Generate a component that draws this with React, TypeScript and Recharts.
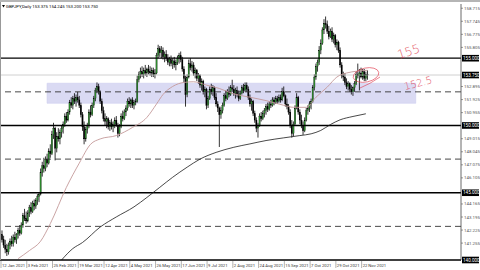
import React from "react";
import { ComposedChart, Bar, Line, XAxis, YAxis, ReferenceLine, ReferenceArea } from "recharts";

// ---- data (GBPJPY daily) ----
const dateLabels = ["12 Jan 2021","3 Feb 2021","25 Feb 2021","19 Mar 2021","12 Apr 2021","4 May 2021","26 May 2021","17 Jun 2021","9 Jul 2021","2 Aug 2021","24 Aug 2021","15 Sep 2021","7 Oct 2021","29 Oct 2021","22 Nov 2021"];
const dateLabelBars = [0,16,32,48,64,80,96,112,128,144,160,176,192,208,224];

const opens = [141.9,141.5,141.1,140.8,140.6,141.1,141.4,141.2,141.7,141.5,
141.9,142.2,142.0,142.6,143.3,143.1,142.9,143.5,143.9,143.6,
144.2,144.0,144.4,144.7,144.9,146.5,147.0,146.8,147.5,147.2,
148.1,147.9,149.3,149.8,148.3,149.2,149.0,149.5,149.8,150.1,
150.7,150.4,151.0,151.7,151.5,152.0,151.8,152.1,151.9,151.5,
150.8,149.9,149.0,149.7,150.0,151.0,150.8,151.5,152.0,152.6,
152.9,152.5,151.8,151.1,150.5,150.3,150.5,149.9,150.2,149.9,
150.1,150.4,150.0,149.4,149.9,150.7,150.5,151.0,151.3,151.8,
151.6,151.9,151.5,151.7,151.8,153.4,153.8,154.0,153.8,154.1,
153.9,154.2,154.0,153.9,154.1,153.8,153.9,155.2,155.7,155.4,
155.6,155.1,155.3,155.0,154.7,154.9,154.6,154.8,154.5,154.7,
155.0,155.2,154.9,154.2,153.5,152.3,153.6,154.6,154.3,154.5,
153.9,154.1,153.5,153.7,153.0,153.3,152.5,152.7,151.5,152.0,
152.7,152.5,152.8,152.1,151.6,151.3,150.8,151.1,151.5,152.2,
152.0,152.5,152.3,152.8,152.7,152.4,152.6,152.3,152.0,152.4,
152.8,152.6,153.0,152.7,152.1,151.6,151.8,150.9,150.4,149.8,
150.0,150.7,150.5,150.9,151.1,151.4,151.2,151.6,151.5,151.9,
151.7,152.0,151.8,152.1,151.9,152.5,152.2,151.6,151.4,151.0,
150.0,149.4,150.1,151.3,152.1,151.0,150.4,150.0,149.6,150.4,
151.1,151.3,151.6,151.8,152.8,153.6,154.4,154.7,155.6,156.1,
157.1,157.6,157.5,157.0,156.6,157.0,156.4,156.7,156.0,156.2,
155.6,154.5,153.7,153.6,153.2,152.9,153.1,152.7,152.5,152.8,
153.1,153.8,153.7,153.9,153.6,154.0,153.5,153.8];

const highs = [142.2,141.8,141.5,141.2,141.3,141.6,141.8,141.9,142.1,142.0,
142.4,142.6,142.8,143.5,143.8,143.6,143.7,144.1,144.3,144.4,
144.5,144.6,144.9,145.0,146.8,147.3,147.6,147.7,147.9,148.3,
148.6,149.6,150.2,149.9,149.5,149.8,149.7,150.0,150.3,150.9,
151.0,151.2,151.9,152.1,152.2,152.4,152.3,152.5,152.2,151.7,
151.0,150.3,149.9,150.2,151.2,151.5,151.7,152.2,152.8,153.2,
153.1,152.6,152.0,151.4,150.9,150.7,150.6,150.4,150.5,150.3,
150.6,150.7,150.2,150.1,150.9,151.1,151.2,151.5,152.0,152.1,
152.0,152.1,151.9,152.0,153.7,154.0,154.3,154.4,154.3,154.5,
154.3,154.5,154.4,154.3,154.3,154.2,155.4,156.0,155.9,155.9,
155.8,155.5,155.6,155.3,155.1,155.2,155.0,155.1,154.9,155.2,
155.4,155.5,155.1,154.4,153.7,153.8,154.9,155.0,154.8,154.7,
154.3,154.2,153.9,153.8,153.5,153.4,152.9,152.8,152.2,152.9,
153.1,153.0,152.9,152.4,151.8,151.4,151.4,151.7,152.4,152.6,
152.7,152.9,153.0,153.4,153.0,152.8,152.9,152.6,152.6,153.0,
153.1,153.2,153.2,152.9,152.3,152.0,151.9,151.1,150.6,150.2,
150.9,151.0,151.1,151.3,151.6,151.7,151.8,151.9,152.1,152.1,
152.2,152.2,152.3,152.3,152.8,152.9,152.3,152.0,151.6,151.2,
150.4,150.3,151.5,152.4,152.2,151.2,150.8,150.3,150.6,151.3,
151.5,151.8,152.0,153.0,153.8,154.6,154.9,155.9,156.4,157.3,
157.9,158.1,157.8,157.4,157.2,157.3,156.9,156.8,156.4,156.3,
155.8,154.7,154.0,153.9,153.5,153.3,153.2,153.0,152.9,153.3,
154.0,154.6,154.2,154.3,154.2,154.2,154.0,154.1];

const lows = [141.3,140.9,140.5,140.3,140.4,140.8,141.0,141.0,141.3,141.2,
141.6,141.8,141.9,142.4,142.9,142.7,142.8,143.2,143.4,143.5,
143.7,143.8,144.1,144.3,144.8,146.2,146.5,146.6,146.9,147.1,
147.6,147.8,149.0,147.4,148.0,148.8,148.6,149.1,149.4,149.9,
150.2,150.3,150.8,151.3,151.2,151.6,151.4,151.7,151.3,150.6,
149.6,148.6,148.8,149.4,149.8,150.6,150.7,151.3,151.8,152.4,
152.3,151.6,150.9,150.3,150.0,149.8,149.7,149.6,149.7,149.5,
149.8,149.9,149.1,149.2,149.8,150.3,150.4,150.7,151.1,151.4,
151.3,151.3,151.2,151.5,151.7,153.2,153.5,153.6,153.5,153.7,
153.6,153.8,153.7,153.6,153.6,153.5,153.8,155.0,155.1,155.0,
154.9,154.7,154.8,154.5,154.4,154.4,154.2,154.3,154.1,154.5,
154.6,154.7,154.0,153.2,151.4,152.1,153.5,154.1,154.0,153.7,
153.5,153.3,153.1,152.8,152.6,152.3,152.1,151.2,151.3,151.9,
152.3,152.2,151.9,151.4,151.0,148.4,150.5,150.9,151.4,151.8,
151.9,152.1,152.2,152.5,152.2,152.0,152.1,151.8,151.9,152.3,
152.4,152.5,152.5,151.9,151.4,151.1,150.7,150.2,149.5,149.1,
149.9,150.3,150.4,150.6,150.8,151.0,151.1,151.3,151.4,151.5,
151.6,151.6,151.7,151.7,151.8,152.1,151.4,151.2,150.8,149.8,
149.1,149.2,150.0,151.2,150.8,150.1,149.8,149.3,149.5,150.3,
150.8,151.0,151.2,151.7,152.6,153.4,154.0,154.5,155.3,156.0,
156.8,157.2,156.8,156.4,156.5,156.2,156.1,155.8,155.6,155.4,
154.3,153.5,153.3,153.0,152.7,152.6,152.5,152.3,152.2,152.5,
153.0,153.5,152.6,153.5,153.4,153.3,153.3,153.4];

const closes = [141.5,141.1,140.8,140.6,141.1,141.4,141.2,141.7,141.5,141.9,
142.2,142.0,142.6,143.3,143.1,142.9,143.5,143.9,143.6,144.2,
144.0,144.4,144.7,144.9,146.5,147.0,146.8,147.5,147.2,148.1,
147.9,149.3,149.8,148.3,149.2,149.0,149.5,149.8,150.1,150.7,
150.4,151.0,151.7,151.5,152.0,151.8,152.1,151.9,151.5,150.8,
149.9,149.0,149.7,150.0,151.0,150.8,151.5,152.0,152.6,152.9,
152.5,151.8,151.1,150.5,150.3,150.5,149.9,150.2,149.9,150.1,
150.4,150.0,149.4,149.9,150.7,150.5,151.0,151.3,151.8,151.6,
151.9,151.5,151.7,151.8,153.4,153.8,154.0,153.8,154.1,153.9,
154.2,154.0,153.9,154.1,153.8,153.9,155.2,155.7,155.4,155.6,
155.1,155.3,155.0,154.7,154.9,154.6,154.8,154.5,154.7,155.0,
155.2,154.9,154.2,153.5,152.3,153.6,154.6,154.3,154.5,153.9,
154.1,153.5,153.7,153.0,153.3,152.5,152.7,151.5,152.0,152.7,
152.5,152.8,152.1,151.6,151.3,150.8,151.1,151.5,152.2,152.0,
152.5,152.3,152.8,152.7,152.4,152.6,152.3,152.0,152.4,152.8,
152.6,153.0,152.7,152.1,151.6,151.8,150.9,150.4,149.8,150.0,
150.7,150.5,150.9,151.1,151.4,151.2,151.6,151.5,151.9,151.7,
152.0,151.8,152.1,151.9,152.5,152.2,151.6,151.4,151.0,150.0,
149.4,150.1,151.3,152.1,151.0,150.4,150.0,149.6,150.4,151.1,
151.3,151.6,151.8,152.8,153.6,154.4,154.7,155.6,156.1,157.1,
157.6,157.5,157.0,156.6,157.0,156.4,156.7,156.0,156.2,155.6,
154.5,153.7,153.6,153.2,152.9,153.1,152.7,152.5,152.8,153.1,
153.8,153.7,153.9,153.6,154.0,153.5,153.8,153.75];

// moving averages (bar index -> value)
const ma50Bars = [10,17,24,30,40,48,55,61,71,81,90,96,100,106,113,119,127,135,144,154,164,175,181,189,195,202,208,214,227];
const ma50Values = [140.1,140.7,141.4,142.7,145.4,147.2,148.6,149.0,149.25,149.85,150.6,151.6,152.3,152.9,153.2,153.25,153.0,152.75,152.35,152.1,151.85,151.5,151.35,151.35,152.1,152.85,153.6,153.9,154.1];
const ma200Bars = [37,44,50,61,71,82,90,98,106,115,123,133,144,154,164,175,185,192,198,204,210,218,226];
const ma200Values = [140.0,140.85,141.3,142.45,143.2,143.95,144.65,145.4,146.15,146.9,147.5,148.0,148.38,148.63,148.88,149.08,149.25,149.38,149.63,150.07,150.42,150.67,150.87];

const priceTicks = [158.715,157.745,156.775,155.805,152.895,151.925,150.955,149.015,148.045,147.075,146.105,144.165,143.195,142.225,141.255];
const solidLevels = [155, 150, 145];
const boxedLevels = [155, 150, 145, 140];
const dashedLevels = [152.5, 147.5, 142.5];
const lastPrice = 153.75;
const zoneLow = 151.65;
const zoneHigh = 153.14;
const zoneFromBar = 28;
const zoneToBar = 257;
const titleText = "GBPJPY,Daily  153.375 154.245 153.200 153.750";

// ---- layout ----
const W = 480;
const H = 270;
const AXIS_W = 19;
const XAXIS_H = 10;
const PLOT_RIGHT = W - AXIS_W;
const PLOT_BOTTOM = H - XAXIS_H;
const FONT = "Roboto, 'DejaVu Sans', sans-serif";

const data = closes.map((c, i) => ({
  i,
  o: opens[i],
  h: highs[i],
  l: lows[i],
  c,
  range: [lows[i], highs[i]],
  ma50: null as number | null,
  ma200: null as number | null,
}));
ma50Bars.forEach((b, k) => { if (data[b]) data[b].ma50 = ma50Values[k]; });
ma200Bars.forEach((b, k) => { if (data[b]) data[b].ma200 = ma200Values[k]; });

const Candle = (props: any) => {
  const { x, y, width, height, payload } = props;
  if (!payload || height == null) return null;
  const { o, h, l, c } = payload;
  const cx = x + width / 2;
  const k = h - l > 0 ? height / (h - l) : 0;
  const yO = y + (h - o) * k;
  const yC = y + (h - c) * k;
  const top = Math.min(yO, yC);
  const bh = Math.max(Math.abs(yO - yC), 0.8);
  const bull = c >= o;
  return (
    <g>
      <line x1={cx} x2={cx} y1={y} y2={y + height} stroke="#000" strokeWidth={0.8} />
      <rect x={cx - 0.7} y={top} width={1.4} height={bh} fill={bull ? "#2d8a2d" : "#000"} stroke="#000" strokeWidth={0.2} />
    </g>
  );
};

const PriceTick = (props: any) => {
  const { y, payload } = props;
  const v: number = payload.value;
  const boxed = boxedLevels.includes(v) || v === lastPrice;
  const label = v.toFixed(3);
  if (boxed) {
    return (
      <g>
        <rect x={PLOT_RIGHT + 1} y={y - 3.3} width={W - PLOT_RIGHT - 2} height={6.6} fill="#000" />
        <text x={PLOT_RIGHT + 2} y={y + 1.6} fontSize={4.6} fill="#fff" fontFamily={FONT}>{label}</text>
      </g>
    );
  }
  return (
    <g>
      <line x1={PLOT_RIGHT} x2={PLOT_RIGHT + 2} y1={y} y2={y} stroke="#555" strokeWidth={0.6} />
      <text x={PLOT_RIGHT + 3} y={y + 1.5} fontSize={4.4} fill="#555" fontFamily={FONT}>{label}</text>
    </g>
  );
};

const DateTick = (props: any) => {
  const { x, payload } = props;
  const idx = dateLabelBars.indexOf(payload.value);
  if (idx < 0) return null;
  return (
    <g>
      <line x1={x - 1} x2={x - 1} y1={PLOT_BOTTOM + 1} y2={PLOT_BOTTOM + 8} stroke="#666" strokeWidth={0.5} />
      <text x={x} y={PLOT_BOTTOM + 6.5} fontSize={4.2} fill="#333" fontFamily={FONT}>{dateLabels[idx]}</text>
    </g>
  );
};

export default function App() {
  return (
    <div style={{ position: "absolute", left: 0, top: 0, width: W, height: H, background: "#fff", overflow: "hidden" }}>
      <ComposedChart width={W} height={H} data={data} margin={{ top: 4, right: 0, bottom: 0, left: 0 }}>
        <XAxis
          type="number"
          dataKey="i"
          domain={[-1.24, 285.1]}
          allowDataOverflow
          ticks={dateLabelBars}
          interval={0}
          height={XAXIS_H}
          tick={<DateTick />}
          tickLine={false}
          axisLine={{ stroke: "#000", strokeWidth: 1.6 }}
        />
        <YAxis
          orientation="right"
          domain={[140, 159.03]}
          allowDataOverflow
          ticks={[...priceTicks, ...boxedLevels, lastPrice]}
          interval={0}
          width={AXIS_W}
          tick={<PriceTick />}
          tickLine={false}
          axisLine={{ stroke: "#444", strokeWidth: 0.8 }}
        />
        <ReferenceArea x1={zoneFromBar} x2={zoneToBar} y1={zoneLow} y2={zoneHigh} fill="#dadaf3" fillOpacity={1} stroke="#cfcff0" strokeWidth={0.6} ifOverflow="hidden" />
        {solidLevels.map((v) => (
          <ReferenceLine key={"s" + v} y={v} stroke="#000" strokeWidth={1.3} />
        ))}
        {dashedLevels.map((v) => (
          <ReferenceLine key={"d" + v} y={v} stroke="#333" strokeWidth={0.9} strokeDasharray="6 4" />
        ))}
        <ReferenceLine y={lastPrice} stroke="#bdbdbd" strokeWidth={0.7} />
        <Bar dataKey="range" shape={<Candle />} barSize={1.6} isAnimationActive={false} />
        <Line dataKey="ma50" type="monotone" stroke="#c49a9a" strokeWidth={0.9} dot={false} connectNulls isAnimationActive={false} />
        <Line dataKey="ma200" type="monotone" stroke="#1a1a1a" strokeWidth={0.8} dot={false} connectNulls isAnimationActive={false} />
      </ComposedChart>
      <svg width={W} height={H} style={{ position: "absolute", left: 0, top: 0, pointerEvents: "none" }}>
        <rect x={0} y={0} width={W} height={2} fill="#b5b5b5" />
        <line x1={0.5} x2={0.5} y1={2} y2={PLOT_BOTTOM} stroke="#999" strokeWidth={1} />
        <path d="M2,5 L5,5 L3.5,7.5 Z" fill="#000" />
        <text x={6} y={7.6} fontSize={4.3} fill="#000" fontFamily={FONT}>{titleText}</text>
        <g fill="#e0384a" fontFamily="'DejaVu Sans', sans-serif" opacity={0.85}>
          <text x={399} y={59} fontSize={12} fontWeight={200} transform="rotate(-18 399 59)">155</text>
          <text x={405} y={90} fontSize={10} fontWeight={200} transform="rotate(-14 405 90)">152.5</text>
        </g>
        <g fill="none" stroke="#e0384a" strokeWidth={0.7} opacity={0.85}>
          <ellipse cx={366} cy={75} rx={13} ry={7} transform="rotate(-12 366 75)" />
          <path d="M360,88 Q370,84 380,77" />
        </g>
      </svg>
    </div>
  );
}
